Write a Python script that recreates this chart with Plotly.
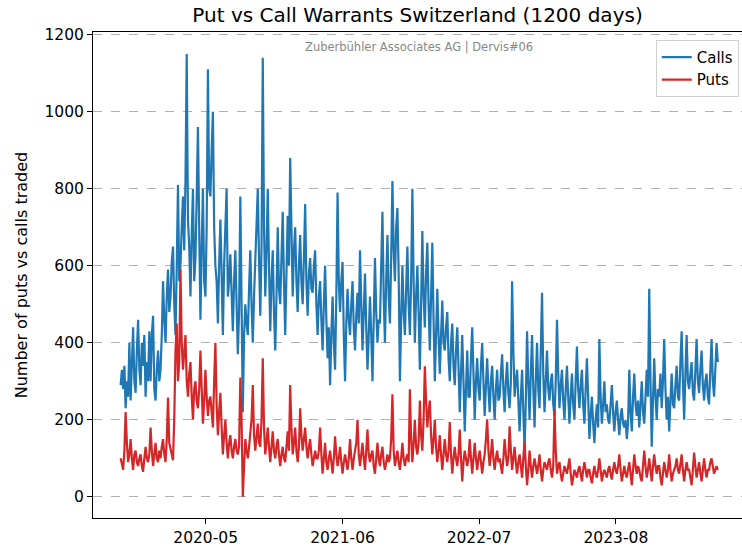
import pandas as pd
import plotly.graph_objects as go

start_date = "2019-08-29"
end_date = "2024-05-22"

calls = [
    290, 330, 280, 340, 230, 300, 260, 400,
    250, 360, 440, 300, 270, 380, 460, 330,
    290, 400, 340, 420, 260, 350, 300, 430,
    300, 420, 470, 280, 250, 330, 380, 300,
    330, 420, 560, 460, 400, 520, 590, 480,
    520, 610, 650, 500, 420, 600, 810, 560,
    600, 700, 780, 640, 820, 1150, 720, 650,
    520, 680, 800, 560, 620, 780, 960, 700,
    460, 650, 800, 560, 520, 700, 1110, 800,
    780, 900, 1000, 700, 600, 560, 450, 600,
    720, 580, 420, 600, 690, 800, 520, 560,
    630, 500, 430, 560, 640, 500, 370, 480,
    780, 500, 220, 420, 500, 450, 420, 540,
    640, 500, 400, 520, 600, 700, 800, 620,
    470, 650, 1140, 700, 520, 640, 800, 600,
    430, 560, 640, 480, 380, 520, 700, 540,
    500, 620, 740, 560, 420, 580, 730, 600,
    880, 700, 520, 640, 700, 560, 480, 600,
    680, 560, 500, 620, 760, 560, 470, 580,
    620, 540, 530, 600, 640, 500, 420, 520,
    560, 460, 380, 500, 600, 460, 360, 440,
    290, 420, 520, 400, 330, 520, 790, 560,
    480, 560, 610, 420, 300, 450, 540, 460,
    420, 500, 560, 440, 380, 470, 530, 450,
    640, 500, 380, 480, 580, 440, 330, 420,
    520, 420, 300, 460, 620, 480, 400, 460,
    450, 600, 740, 520, 400, 560, 680, 520,
    450, 620, 820, 640, 560, 700, 750, 580,
    300, 460, 600, 480, 420, 540, 650, 500,
    420, 560, 800, 560, 400, 520, 600, 480,
    330, 500, 690, 520, 440, 580, 660, 500,
    380, 520, 660, 460, 300, 420, 540, 420,
    320, 420, 510, 400, 380, 440, 480, 360,
    300, 400, 450, 340, 290, 380, 440, 340,
    220, 320, 420, 300, 170, 280, 380, 260,
    260, 360, 440, 320, 200, 300, 360, 280,
    250, 340, 400, 300, 210, 290, 360, 280,
    220, 300, 340, 260, 200, 280, 330, 250,
    260, 320, 370, 280, 220, 300, 350, 270,
    230, 300, 560, 380, 260, 300, 330, 250,
    170, 260, 330, 220, 120, 250, 430, 300,
    200, 320, 420, 280, 180, 300, 400, 280,
    230, 380, 530, 320, 220, 300, 380, 280,
    250, 300, 320, 240, 210, 300, 460, 320,
    230, 290, 330, 250, 200, 280, 340, 260,
    190, 260, 320, 240, 200, 300, 390, 280,
    230, 290, 330, 240, 190, 280, 360, 260,
    150, 210, 260, 190, 140, 200, 240, 180,
    410, 260, 190, 240, 300, 220, 240, 200,
    190, 240, 290, 220, 170, 220, 250, 200,
    160, 210, 230, 190, 180, 200, 150, 190,
    330, 220, 170, 260, 320, 240, 210, 250,
    180, 240, 300, 220, 190, 260, 330, 260,
    540, 300, 130, 250, 360, 260, 200, 280,
    260, 320, 230, 300, 410, 280, 200, 260,
    170, 250, 320, 240, 230, 290, 340, 260,
    250, 350, 430, 300, 200, 320, 420, 300,
    280, 320, 350, 270, 250, 330, 410, 300,
    270, 330, 380, 290, 250, 300, 320, 260,
    240, 330, 410, 300, 260, 330, 400, 350,
]

puts = [
    100, 80, 70, 120, 220, 140, 90, 110,
    150, 100, 70, 110, 120, 90, 80, 100,
    110, 80, 65, 100, 130, 100, 90, 110,
    180, 120, 80, 110, 140, 100, 90, 120,
    100, 130, 150, 110, 90, 150, 258, 140,
    120, 110, 95, 200, 380, 450, 300, 350,
    590, 400, 330, 380, 420, 300, 260, 320,
    350, 260, 200, 280, 300, 250, 230, 280,
    380, 280, 190, 250, 330, 260, 210, 250,
    260, 220, 180, 300, 400, 240, 160, 220,
    270, 180, 110, 160, 200, 140, 100, 140,
    160, 120, 100, 130, 150, 120, 110, 130,
    310, 200, 0, 80, 150, 120, 100, 130,
    160, 200, 290, 160, 120, 150, 190, 140,
    130, 200, 360, 180, 110, 140, 180, 130,
    90, 130, 170, 120, 100, 130, 150, 110,
    80, 110, 130, 100, 90, 130, 170, 120,
    290, 180, 110, 140, 180, 120, 90, 130,
    230, 160, 120, 150, 180, 130, 100, 130,
    150, 110, 80, 100, 120, 100, 100, 120,
    180, 110, 60, 100, 140, 90, 70, 100,
    120, 90, 60, 100, 157, 110, 80, 100,
    130, 90, 60, 90, 110, 90, 70, 100,
    150, 100, 70, 100, 120, 140, 200, 110,
    80, 110, 140, 100, 70, 120, 175, 110,
    90, 110, 120, 80, 60, 100, 140, 100,
    80, 110, 130, 90, 70, 90, 110, 90,
    100, 150, 266, 120, 80, 100, 120, 90,
    70, 100, 140, 100, 80, 100, 110, 90,
    279, 150, 90, 140, 200, 130, 110, 140,
    250, 160, 120, 200, 339, 250, 180, 220,
    250, 160, 110, 150, 200, 130, 90, 120,
    160, 110, 70, 110, 150, 110, 90, 120,
    194, 110, 60, 100, 130, 100, 80, 110,
    175, 100, 40, 90, 120, 100, 80, 100,
    150, 100, 60, 100, 140, 100, 70, 100,
    120, 90, 60, 90, 110, 150, 201, 120,
    80, 110, 150, 100, 70, 100, 120, 90,
    100, 80, 60, 100, 150, 110, 80, 100,
    183, 120, 70, 100, 130, 90, 60, 90,
    110, 80, 50, 100, 144, 80, 30, 70,
    120, 80, 50, 80, 100, 80, 60, 80,
    110, 70, 40, 70, 90, 80, 70, 90,
    100, 70, 50, 80, 227, 120, 60, 80,
    90, 60, 40, 60, 80, 70, 60, 80,
    100, 60, 30, 50, 70, 60, 50, 70,
    80, 60, 40, 70, 90, 70, 50, 70,
    70, 50, 35, 60, 80, 60, 50, 70,
    100, 70, 40, 60, 70, 60, 50, 70,
    80, 60, 45, 70, 90, 70, 60, 80,
    110, 70, 40, 60, 80, 60, 50, 70,
    90, 60, 30, 70, 110, 80, 60, 80,
    70, 50, 40, 80, 120, 80, 50, 70,
    100, 70, 40, 80, 110, 80, 60, 80,
    80, 50, 30, 60, 90, 70, 50, 70,
    110, 70, 40, 60, 70, 80, 100, 70,
    60, 90, 110, 70, 40, 70, 90, 70,
    70, 50, 30, 70, 115, 80, 50, 70,
    90, 60, 40, 70, 100, 70, 50, 70,
    70, 90, 100, 80, 60, 70, 80, 70,
]

tick_dates = ["2020-05-01", "2021-06-01", "2022-07-01", "2023-08-01"]
tick_labels = ["2020-05", "2021-06", "2022-07", "2023-08"]
y_ticks = [0, 200, 400, 600, 800, 1000, 1200]

dates = pd.date_range(start_date, end_date, periods=len(calls))

fig = go.Figure()
fig.add_trace(go.Scatter(x=dates, y=calls, mode="lines", name="Calls",
                         line=dict(color="#1f77b4", width=2.2)))
fig.add_trace(go.Scatter(x=dates, y=puts, mode="lines", name="Puts",
                         line=dict(color="#d62728", width=2.2)))

font = "DejaVu Sans, sans-serif"
fig.update_layout(
    width=742, height=550,
    margin=dict(l=93, r=0, t=32, b=32, autoexpand=False),
    paper_bgcolor="white", plot_bgcolor="white",
    font=dict(family=font, size=15, color="black"),
    title=dict(text="Put vs Call Warrants Switzerland (1200 days)",
               x=0.5, xref="paper", xanchor="center",
               y=1 - 15 / 550, yref="container", yanchor="middle",
               font=dict(size=20, family=font, color="black")),
    showlegend=True,
    legend=dict(x=0.995, xanchor="right", y=0.984, yanchor="top",
                bgcolor="rgba(255,255,255,0.8)", bordercolor="#d0d0d0",
                borderwidth=1, font=dict(size=15, family=font),
                tracegroupgap=0),
    xaxis=dict(type="date", range=["2019-06-10", "2024-07-31"],
               tickvals=tick_dates, ticktext=tick_labels,
               showgrid=False, zeroline=False, automargin=False,
               showline=True, linecolor="black", linewidth=1, mirror=True,
               ticks="outside", ticklen=5, tickcolor="black",
               tickfont=dict(size=15.5)),
    yaxis=dict(range=[-55, 1207], tickvals=y_ticks,
               showgrid=True, gridcolor="#b0b0b0", griddash="dash", gridwidth=1,
               zeroline=False, automargin=False,
               showline=True, linecolor="black", linewidth=1, mirror=True,
               ticks="outside", ticklen=5, tickcolor="black",
               tickfont=dict(size=15.5),
               title=dict(text="Number of puts vs calls traded", standoff=12,
                          font=dict(size=16))),
)

fig.add_annotation(text="Zuberbühler Associates AG | Dervis#06",
                   xref="paper", yref="paper", x=0.503, y=0.969,
                   xanchor="center", yanchor="middle", showarrow=False,
                   font=dict(size=11.5, color="#888888", family=font))

fig.write_html("out.html", config={"displayModeBar": False},
               post_script="document.body.style.margin='0';document.body.style.overflow='hidden';")
